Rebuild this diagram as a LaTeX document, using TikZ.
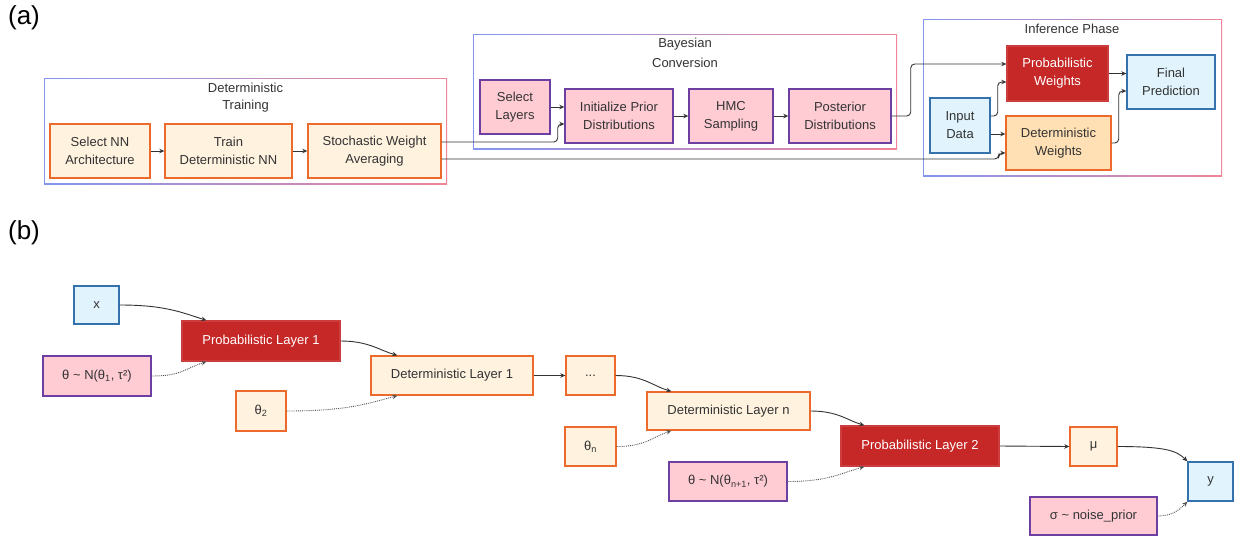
\documentclass[tikz,border=0pt]{standalone}
\usepackage{fontspec}
\setmainfont{Liberation Sans}
\usetikzlibrary{arrows.meta,calc}

\definecolor{lo}{HTML}{FFF2DF}
\definecolor{ob}{HTML}{EC6A2C}
\definecolor{dwf}{HTML}{FFE0B4}
\definecolor{pk}{HTML}{FFCCD4}
\definecolor{pu}{HTML}{6E3FA3}
\definecolor{rd}{HTML}{C62828}
\definecolor{lb}{HTML}{E1F4FD}
\definecolor{bb}{HTML}{3472AE}
\definecolor{ln}{HTML}{333333}
\definecolor{gl}{HTML}{8296F0}
\definecolor{gr}{HTML}{F08498}

\newcommand\mycluster[4]{%
  \shade[left color=gl,right color=gr] (#1,#2) rectangle (#3,#4);
  \fill[white] (#1+1.3,#2+1.3) rectangle (#3-1.3,#4-1.3);
}

\tikzset{
  base/.style={line width=1.4pt, inner sep=0pt, align=center,
    font=\fontsize{13}{18}\selectfont, text=ln},
  obox/.style={base, draw=ob, fill=lo},
  owbox/.style={base, draw=ob, fill=dwf},
  pbox/.style={base, draw=pu, fill=pk},
  rbox/.style={base, draw=rd!90!white, fill=rd, text=white},
  bbox/.style={base, draw=bb, fill=lb},
  title/.style={font=\fontsize{13}{18}\selectfont, text=ln, align=center, inner sep=0pt},
  edge/.style={draw=ln, line width=0.9pt, -{Stealth[length=5pt,width=4.5pt]}, rounded corners=4pt},
  dotedge/.style={draw=ln!85, line width=0.9pt, densely dotted, -{Stealth[length=5pt,width=4.5pt]}},
  sz/.style 2 args={minimum width=#1pt, minimum height=#2pt}
}

\begin{document}
\begin{tikzpicture}[x=1pt,y=-1pt]
\useasboundingbox (0,0) rectangle (1238,536);

% panel labels
\node[inner sep=0pt, font=\fontsize{26}{30}\selectfont] (la) at (24,18) {(a)};
\node[inner sep=0pt, font=\fontsize{26}{30}\selectfont] (lb) at (24,233) {(b)};

% clusters
\mycluster{44}{78}{447}{184}
\mycluster{473}{34}{897}{149}
\mycluster{923}{19}{1222}{176}
\node[title] (t1a) at (245.5,88) {Deterministic};
\node[title] (t1b) at (245.5,106) {Training};
\node[title] (t2a) at (685,44) {Bayesian};
\node[title] (t2b) at (685,63) {Conversion};
\node[title] (t3) at (1072,29) {Inference Phase};

% (a) nodes
\node[obox, sz={100}{54}] (sna) at (100,151) {Select NN\\Architecture};
\node[obox, sz={127}{54}] (tdn) at (228.5,151) {Train\\Deterministic NN};
\node[obox, sz={133}{54}] (swa) at (374.5,151) {Stochastic Weight\\Averaging};
\node[pbox, sz={70}{54}] (sl) at (515,107) {Select\\Layers};
\node[pbox, sz={108}{54}] (ipd) at (619,116) {Initialize Prior\\Distributions};
\node[pbox, sz={84}{54}] (hmc) at (731,116) {HMC\\Sampling};
\node[pbox, sz={102}{54}] (pd) at (840,116) {Posterior\\Distributions};
\node[rbox, sz={101}{55}] (pw) at (1057.5,73.5) {Probabilistic\\Weights};
\node[bbox, sz={88}{54}] (fp) at (1171,82) {Final\\Prediction};
\node[bbox, sz={60}{55}] (id) at (960,125.5) {Input\\Data};
\node[owbox, sz={105}{54}] (dw) at (1058.5,143) {Deterministic\\Weights};

% (a) edges
\draw[edge] (sna.east) -- (tdn.west);
\draw[edge] (tdn.east) -- (swa.west);
\draw[edge] ([yshift=9pt]swa.east) -- ++(116,0) |- ([yshift=-8pt]ipd.west);
\draw[edge] (sl.east) -- (sl.east -| ipd.west);
\draw[edge] (ipd.east) -- (hmc.west);
\draw[edge] (hmc.east) -- (pd.west);
\draw[edge] (pd.east) -- ++(19,0) |- ([yshift=9.5pt]pw.west);
\draw[edge] ([yshift=9.5pt]id.east) -- ++(7,0) |- ([yshift=-8.5pt]pw.west);
\draw[edge] ([yshift=-8.5pt]id.east) -- ([yshift=-8.5pt]id.east -| dw.west);
\draw[edge] ([yshift=-8pt]swa.east) -- ++(557,0) |- ([yshift=-10pt]dw.west);
\draw[edge] (pw.east) -- (pw.east -| fp.west);
\draw[edge] (dw.east) -- ++(7,0) |- ([yshift=-9pt]fp.west);

% (b) nodes
\node[bbox, sz={45}{38}] (x) at (96.5,305) {x};
\node[rbox, sz={158}{40}] (pl1) at (261,341) {Probabilistic Layer 1};
\node[pbox, sz={108}{40}] (th1) at (97,376) {θ \char`~\ N(θ\textsubscript{1}, τ²)};
\node[obox, sz={50}{40}] (th2) at (261,411) {θ\textsubscript{2}};
\node[obox, sz={162}{39}] (dl1) at (452,375.5) {Deterministic Layer 1};
\node[obox, sz={49}{39}] (dt) at (590.5,375.5) {...};
\node[obox, sz={163}{38}] (dln) at (728.5,411) {Deterministic Layer n};
\node[obox, sz={51}{39}] (thn) at (590.5,446.5) {θ\textsubscript{n}};
\node[rbox, sz={158}{40}] (pl2) at (920,446) {Probabilistic Layer 2};
\node[pbox, sz={118}{39}] (thm) at (728,481.5) {θ \char`~\ N(θ\textsubscript{n+1}, τ²)};
\node[obox, sz={47}{39}] (mu) at (1093.5,446.5) {μ};
\node[bbox, sz={45}{39}] (y) at (1210.5,481.5) {y};
\node[pbox, sz={127}{38}] (sig) at (1093.5,516) {σ \char`~\ noise\_prior};

% (b) edges
\draw[edge] (x.east) .. controls +(45,0) and +(-25,-8) .. ([xshift=25pt]pl1.north west);
\draw[dotedge] (th1.east) .. controls +(30,0) and +(-22,7) .. ([xshift=25pt]pl1.south west);
\draw[edge] (pl1.east) .. controls +(28,0) and +(-18,-5) .. ([xshift=27pt]dl1.north west);
\draw[dotedge] (th2.east) .. controls +(60,0) and +(-30,8) .. ([xshift=27pt]dl1.south west);
\draw[edge] (dl1.east) -- (dt.west);
\draw[edge] (dt.east) .. controls +(28,0) and +(-18,-5) .. ([xshift=25pt]dln.north west);
\draw[dotedge] (thn.east) .. controls +(28,0) and +(-20,7) .. ([xshift=25pt]dln.south west);
\draw[edge] (dln.east) .. controls +(27,0) and +(-17,-5) .. ([xshift=24pt]pl2.north west);
\draw[dotedge] (thm.east) .. controls +(40,0) and +(-25,7) .. ([xshift=24pt]pl2.south west);
\draw[edge] (pl2.east) -- (mu.west);
\draw[edge] (mu.east) .. controls +(50,0) and +(-10,-10) .. (y.north west);
\draw[dotedge] (sig.east) .. controls +(15,0) and +(-8,8) .. (y.south west);
\end{tikzpicture}
\end{document}
